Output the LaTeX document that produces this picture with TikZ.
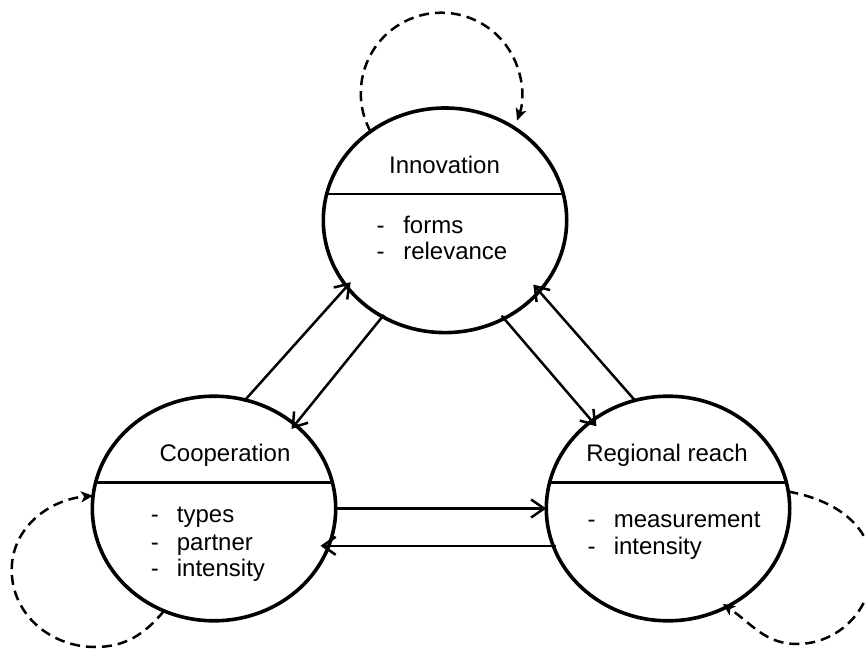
\documentclass[tikz,border=0pt]{standalone}
\usepackage{fontspec}
\setmainfont{Liberation Sans}
\usetikzlibrary{shapes.geometric,arrows.meta}
\begin{document}
\begin{tikzpicture}[x=1pt,y=1pt,
  topic/.style={ellipse, draw, line width=3.6pt, minimum width=243.4pt, minimum height=224.6pt, inner sep=0pt, outer sep=0pt},
  divider/.style={line width=2.2pt},
  title/.style={anchor=base, inner sep=0pt, font=\fontsize{24}{27}\selectfont},
  item/.style={anchor=base west, inner sep=0pt, font=\fontsize{24}{27}\selectfont},
  link/.style={line width=2.5pt, -{Straight Barb[length=13pt,width=18pt]}},
  selfloop/.style={line width=2.5pt, dash pattern=on 10pt off 6pt, -{Stealth[length=12pt,width=11pt,inset=3pt]}}
]
\useasboundingbox (0,0) rectangle (865,649);
% topics
\node[topic] (I) at (445,428.7) {};
\node[topic] (C) at (214,140.5) {};
\node[topic] (R) at (668,140.5) {};
% dividers
\draw[divider] ([shift={(-118.4,26)}]I.center) -- ([shift={(118.4,26)}]I.center);
\draw[divider] ([shift={(-118.4,26)}]C.center) -- ([shift={(118.4,26)}]C.center);
\draw[divider] ([shift={(-118.4,26)}]R.center) -- ([shift={(118.4,26)}]R.center);
% titles
\node[title] (tI) at (444.5,475.7) {Innovation};
\node[title] (tC) at (225,188) {Cooperation};
\node[title] (tR) at (667,188) {Regional reach};
% items
\node[item] (i1) at (376.3,415.7) {\makebox[26.8pt][l]{-}forms};
\node[item] (i2) at (376.3,389) {\makebox[26.8pt][l]{-}relevance};
\node[item] (c1) at (150.7,126.3) {\makebox[26pt][l]{-}types};
\node[item] (c2) at (150.7,99) {\makebox[26pt][l]{-}partner};
\node[item] (c3) at (150.7,72.3) {\makebox[26pt][l]{-}intensity};
\node[item] (r1) at (587.3,121.7) {\makebox[26.3pt][l]{-}measurement};
\node[item] (r2) at (587.3,94.7) {\makebox[26.3pt][l]{-}intensity};
% links
\draw[link, shorten <=-1.9pt, shorten >=-5.9pt] (C.74.3) -- (I.214.1);
\draw[link, shorten <=-2.2pt, shorten >=-5.5pt] (I.237.8) -- (C.46.5);
\draw[link, shorten <=-3.7pt, shorten >=-7.1pt] (I.-59) -- (R.131.3);
\draw[link, shorten <=1pt, shorten >=-9pt] (R.107.7) -- (I.-37);
\draw[link] (C.-0.38) -- (R.180.38);
\draw[link, shorten <=-3.1pt, shorten >=-8.3pt] (R.198.46) -- (C.-18.46);
% self loops
\coordinate (cb) at (95,2);
\coordinate (cl) at (11.7,79);
\coordinate (rr) at (872,81);
\coordinate (rb) at (796.7,5);
\draw[selfloop] (I.130.7) arc[start angle=208.4, end angle=-19.8, radius=80.5];
\draw[selfloop] (C.244.4) to[out=230,in=0] (cb) to[out=180,in=-90] (cl) to[out=90,in=185] (C.174.8);
\draw[selfloop, shorten >=-5pt] (R.8.9) to[out=-10,in=90] (rr) to[out=-90,in=0] (rb) to[out=180,in=-35] (R.-59.9);
\end{tikzpicture}
\end{document}
